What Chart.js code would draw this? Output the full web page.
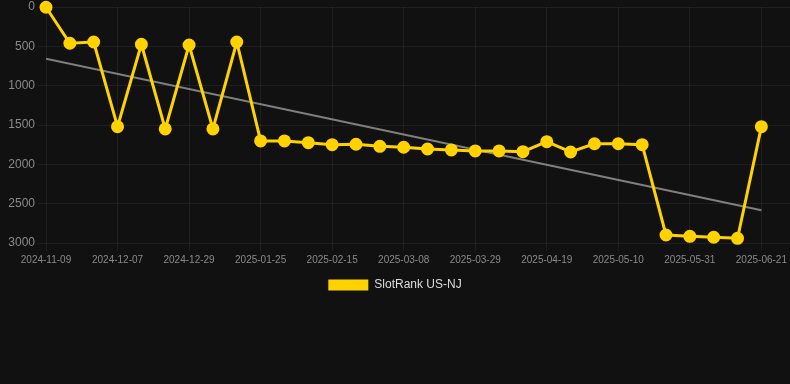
<!DOCTYPE html>
<html>
<head>
<meta charset="utf-8">
<script src="https://cdn.jsdelivr.net/npm/chart.js@4"></script>
<style>
  html, body { margin: 0; padding: 0; background: #111111; }
  #wrap { position: relative; width: 790px; height: 301px; }
</style>
</head>
<body>
<div id="wrap"><canvas id="chart1"></canvas></div>
<script>
// weekly-ish snapshot dates (only every 3rd is shown on the axis)
const dates = [
  '2024-11-09', '2024-11-18', '2024-11-27', '2024-12-07', '2024-12-14', '2024-12-21',
  '2024-12-29', '2025-01-07', '2025-01-16', '2025-01-25', '2025-02-01', '2025-02-08',
  '2025-02-15', '2025-02-22', '2025-03-01', '2025-03-08', '2025-03-15', '2025-03-22',
  '2025-03-29', '2025-04-05', '2025-04-12', '2025-04-19', '2025-04-26', '2025-05-03',
  '2025-05-10', '2025-05-17', '2025-05-24', '2025-05-31', '2025-06-07', '2025-06-14',
  '2025-06-21'
];
const rankNJ = [
  3, 461, 445, 1521, 474, 1550, 483, 1550, 445, 1703, 1703, 1725,
  1750, 1745, 1771, 1783, 1805, 1817, 1830, 1830, 1839, 1712, 1843, 1738,
  1738, 1750, 2898, 2915, 2927, 2940, 1521
];
const yTicks = [0, 500, 1000, 1500, 2000, 2500, 3000];

const gold = '#FFD200';
const gridcolor = 'rgba(255,255,255,0.06)';
const txtcolor = '#8a8a8a';
const fontFam = "'Liberation Sans', Arial, sans-serif";

// least squares trend over the rank values
const n = rankNJ.length;
let sx = 0, sy = 0, sxy = 0, sxx = 0;
rankNJ.forEach((v, i) => { sx += i; sy += v; sxy += i * v; sxx += i * i; });
const slope = (n * sxy - sx * sy) / (n * sxx - sx * sx);
const icpt = (sy - slope * sx) / n;
const trend = [{x: 0, y: icpt}, {x: n - 1, y: icpt + slope * (n - 1)}];

const ctx = document.getElementById('chart1');
new Chart(ctx, {
  type: 'line',
  data: {
    datasets: [{
      label: 'SlotRank US-NJ',
      data: rankNJ.map((v, i) => ({x: i, y: v})),
      borderColor: gold,
      backgroundColor: gold,
      borderWidth: 3,
      pointRadius: 5,
      pointBackgroundColor: gold,
      pointBorderColor: gold,
      tension: 0,
      clip: false
    }, {
      label: 'trend',
      data: trend,
      borderColor: 'rgba(140,140,140,0.9)',
      borderWidth: 2,
      pointRadius: 0,
      fill: false
    }]
  },
  options: {
    responsive: true,
    maintainAspectRatio: false,
    animation: false,
    layout: { autoPadding: false, padding: 0 },
    scales: {
      x: {
        type: 'linear',
        min: 0,
        max: 31.2,
        afterBuildTicks: (scale) => {
          scale.ticks = dates.map((d, i) => ({value: i})).filter(t => t.value % 3 === 0);
        },
        ticks: {
          color: txtcolor,
          font: { family: fontFam, size: 10 },
          maxRotation: 0,
          autoSkip: false,
          callback: (v) => dates[v] || ''
        },
        grid: { color: gridcolor },
        border: { display: false }
      },
      y: {
        reverse: true,
        min: 0,
        max: 3000,
        afterBuildTicks: (scale) => {
          scale.ticks = yTicks.map(v => ({value: v}));
        },
        afterFit: (scale) => {
          scale.width = 46;
          scale.paddingTop = 7;
        },
        ticks: {
          color: txtcolor,
          font: { family: fontFam, size: 12 },
          callback: (v) => String(v)
        },
        grid: { color: gridcolor },
        border: { display: false }
      }
    },
    plugins: {
      legend: {
        position: 'bottom',
        labels: {
          color: '#dddddd',
          font: { family: fontFam, size: 12 },
          boxWidth: 40,
          boxHeight: 11,
          generateLabels: (chart) => Chart.defaults.plugins.legend.labels.generateLabels(chart)
            .filter(item => item.datasetIndex === 0)
            .map(item => ({...item, lineWidth: 0}))
        }
      },
      tooltip: { enabled: false }
    }
  }
});
</script>
</body>
</html>
